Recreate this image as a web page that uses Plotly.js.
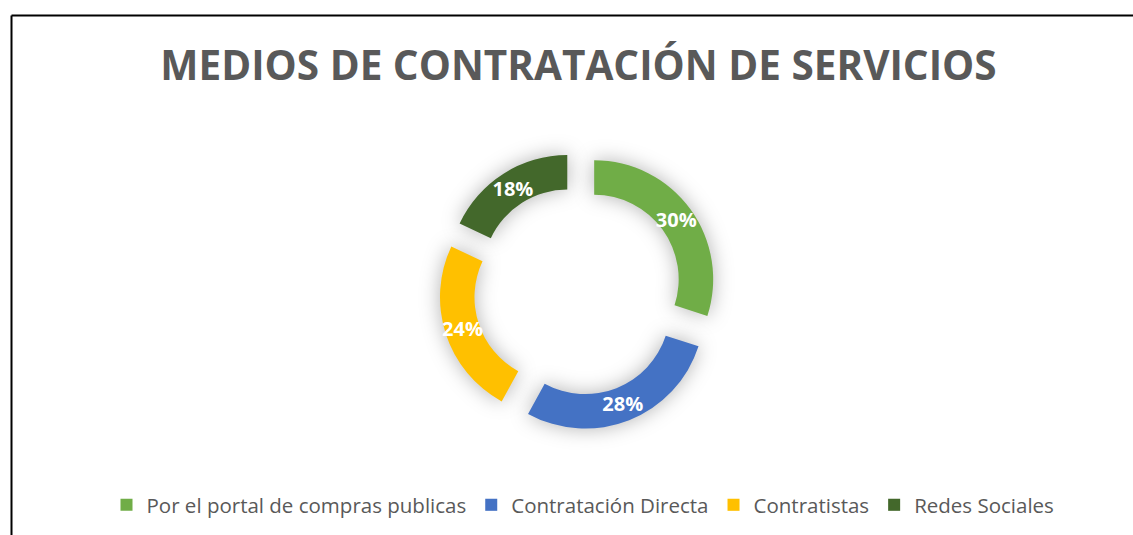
<!DOCTYPE html>
<html>
<head>
<meta charset="utf-8">
<script src="https://cdn.plot.ly/plotly-3.0.1.min.js"></script>
<style>
html,body{margin:0;padding:0;background:#fff;}
#chart{width:1133px;height:535px;}
.pielayer .slice path.surface{filter:drop-shadow(0 0 10px rgba(0,0,0,0.3));}
</style>
</head>
<body>
<div id="chart"></div>
<script>
const categories = ["Por el portal de compras publicas", "Contratación Directa", "Contratistas", "Redes Sociales"];
const values = [30, 28, 24, 18];
const colors = ["#70AD47", "#4472C4", "#FFC000", "#43682B"];
const chartTitle = "MEDIOS DE CONTRATACIÓN DE SERVICIOS";

const W = 1133, H = 535;
const cx = 578, cy = 291, r = 119, explode = 20;

function domainFor(radius, pull) {
  const half = radius * (1 + pull);
  return {x: [(cx - half) / W, (cx + half) / W], y: [(H - cy - half) / H, (H - cy + half) / H]};
}

// visible ring
const ring = {
  type: "pie",
  labels: categories,
  values: values,
  sort: false,
  direction: "clockwise",
  rotation: 0,
  hole: 0.71,
  pull: explode / r,
  marker: {colors: colors, line: {width: 0}},
  textinfo: "none",
  domain: domainFor(r, explode / r),
  hoverinfo: "label+percent"
};

// transparent companion trace carrying the percentage labels (same data)
const r2 = 145;
const labelsTrace = {
  type: "pie",
  labels: categories,
  values: values,
  sort: false,
  direction: "clockwise",
  rotation: 0,
  hole: 0.4,
  pull: explode / r2,
  showlegend: false,
  marker: {colors: categories.map(() => "rgba(0,0,0,0)"), line: {width: 0}},
  texttemplate: "%{percent:.0%}",
  textposition: "inside",
  insidetextorientation: "horizontal",
  insidetextfont: {family: "Open Sans", size: 20, color: "#ffffff", weight: "bold"},
  domain: domainFor(r2, explode / r2),
  hoverinfo: "skip"
};

const layout = {
  width: W, height: H,
  margin: {l: 0, r: 0, t: 0, b: 0},
  paper_bgcolor: "#ffffff",
  title: {
    text: "<b>" + chartTitle + "</b>",
    font: {family: "Open Sans", size: 40.5, color: "#595959"},
    x: 578.5 / W, xanchor: "center",
    y: 1 - 66 / H, yanchor: "middle", yref: "container"
  },
  showlegend: true,
  legend: {
    orientation: "h",
    x: 583 / W, xanchor: "center",
    y: (H - 505) / H, yanchor: "middle",
    font: {family: "Open Sans", size: 20.5, color: "#595959"},
    traceorder: "normal"
  },
  shapes: [
    {type: "line", xref: "paper", yref: "paper", x0: 11.5 / W, x1: 11.5 / W, y0: 0, y1: 1 - 15.5 / H, line: {color: "#000", width: 2}},
    {type: "line", xref: "paper", yref: "paper", x0: 11.5 / W, x1: 1, y0: 1 - 15.5 / H, y1: 1 - 15.5 / H, line: {color: "#000", width: 2}}
  ]
};

Plotly.newPlot("chart", [ring, labelsTrace], layout, {displayModeBar: false, staticPlot: true});
</script>
</body>
</html>
